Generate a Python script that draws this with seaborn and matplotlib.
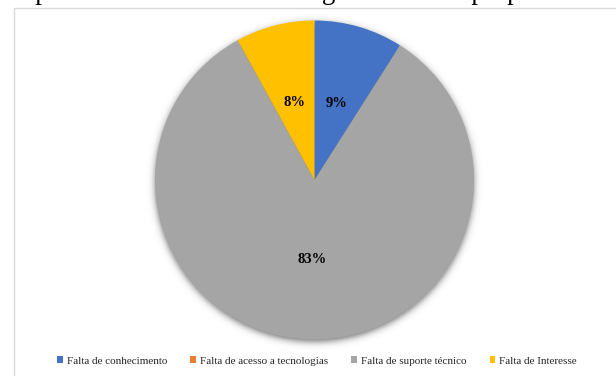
import numpy as np
import matplotlib
matplotlib.use("Agg")
import matplotlib.pyplot as plt
from matplotlib.lines import Line2D
import seaborn as sns

# Motivos para não implementar a ferramenta de gestão
categorias = [
    "Falta de conhecimento",
    "Falta de acesso a tecnologias",
    "Falta de suporte técnico",
    "Falta de Interesse",
]
percentuais = [9, 0, 83, 8]
cores = ["#4472C4", "#ED7D31", "#A5A5A5", "#FFC000"]
texto_documento = "implementar a ferramenta de gestão na sua propriedade."

sns.set_theme(style="white")
plt.rcParams["font.family"] = ["Liberation Serif", "DejaVu Serif"]

W, H, DPI = 616, 376, 100
fig = plt.figure(figsize=(W / DPI, H / DPI), dpi=DPI)
fig.patch.set_facecolor("white")

# line of body text above the chart frame (only its lower edge shows)
fig.text(7 / W, 1.0 + 1.2 / H, texto_documento, fontsize=19.3, va="baseline",
         ha="left", color="black", family="Liberation Serif")

# chart frame: left and top border
frame_color = "#d9d9d9"
fig.add_artist(Line2D([13.5 / W, 13.5 / W], [0, 1 - 7.5 / H],
                      transform=fig.transFigure, color=frame_color, lw=1.0))
fig.add_artist(Line2D([13.5 / W, 1], [1 - 7.5 / H, 1 - 7.5 / H],
                      transform=fig.transFigure, color=frame_color, lw=1.0))

# pie axes
cx, cy, r = 314.5, 180.0, 159.5
pad = 1.08
ax = fig.add_axes([(cx - r * pad) / W, (H - cy - r * pad) / H,
                   2 * r * pad / W, 2 * r * pad / H])
ax.set_xlim(-pad, pad)
ax.set_ylim(-pad, pad)
ax.set_aspect("equal")
ax.axis("off")

# soft shadow below the pie
n = 400
g = np.linspace(-pad, pad, n)
X, Y = np.meshgrid(g, g)
d = np.sqrt(X ** 2 + (Y + 0.018) ** 2)
alpha = 0.55 / (1 + np.exp((d - 1.0) / 0.013))
shadow = np.zeros((n, n, 4))
shadow[..., 3] = alpha
ax.imshow(shadow, extent=(-pad, pad, -pad, pad), origin="lower", zorder=0,
          interpolation="bilinear")

wedges, textos, autotextos = ax.pie(
    percentuais,
    colors=cores,
    startangle=90,
    counterclock=False,
    radius=1.0,
    autopct=lambda p: f"{p:.0f}%" if p > 0.5 else "",
    pctdistance=0.5,
    wedgeprops=dict(linewidth=0, zorder=2),
    textprops=dict(fontsize=10.5, fontweight="bold", color="black",
                   family="Liberation Serif"),
)
for w in wedges:
    w.set_zorder(2)
for t in autotextos:
    t.set_zorder(3)
ax.set_xlim(-pad, pad)
ax.set_ylim(-pad, pad)

fig.legend(
    wedges, categorias,
    loc="center", bbox_to_anchor=(317 / W, (H - 361) / H),
    ncol=4, frameon=False,
    prop=dict(family="Liberation Serif", size=8),
    handlelength=0.5, handleheight=0.5, handletextpad=0.35,
    columnspacing=2.1, borderaxespad=0,
)

fig.savefig("out.png", dpi=DPI, facecolor="white")
